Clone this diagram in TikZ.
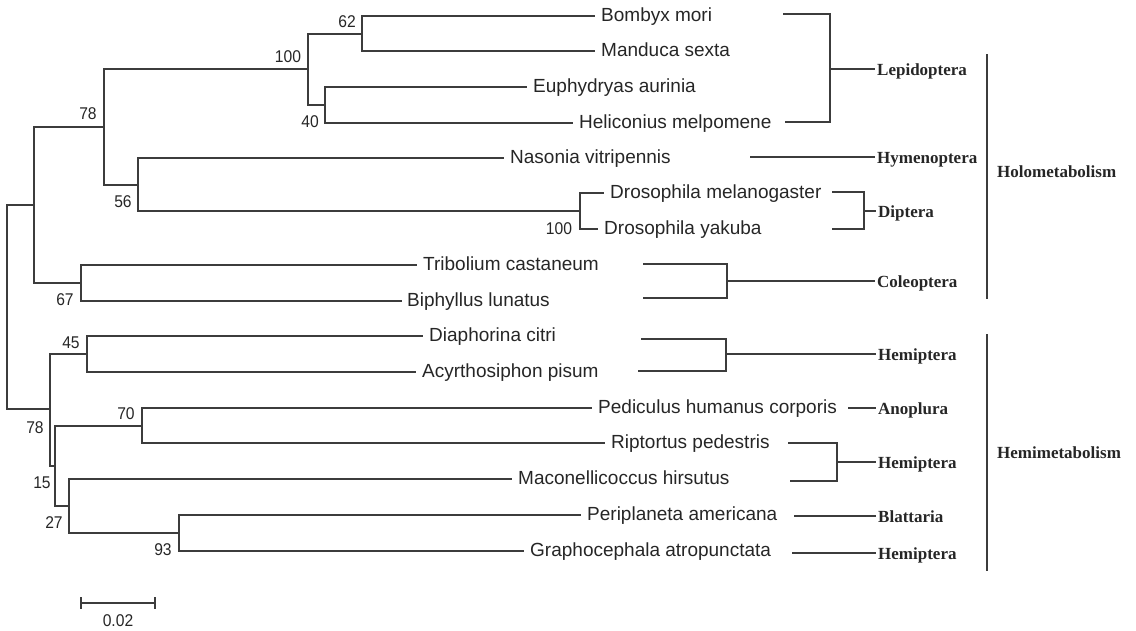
\documentclass[tikz,border=0pt]{standalone}
\usepackage{fontspec}
\setmainfont{Liberation Sans}
\newfontfamily\leaffont{Liberation Sans}
\newfontfamily\bsfont[FakeStretch=0.92]{Liberation Sans}
\newfontfamily\grpfont{Liberation Serif}
\definecolor{linec}{HTML}{3C3C3C}
\definecolor{txtc}{HTML}{262626}
\tikzset{
  br/.style={draw=linec, line width=1.1pt},
  leaf/.style={anchor=west, inner xsep=6pt, inner ysep=0pt, text height=10pt, text depth=0pt,
    font=\leaffont\fontsize{19}{19}\selectfont, text=txtc},
  bs/.style={inner sep=0pt, text height=12pt, text depth=0pt,
    font=\bsfont\fontsize{17}{17}\selectfont, text=txtc},
  grp/.style={anchor=west, inner xsep=2pt, inner ysep=0pt, text height=12pt, text depth=0pt,
    font=\grpfont\bfseries\fontsize{17}{17}\selectfont, text=txtc},
}
\begin{document}
\begin{tikzpicture}[x=1pt,y=-1pt]
\useasboundingbox (0,0) rectangle (1136,630);
% internal nodes
\coordinate (R) at (7,307);
\coordinate (A) at (34,205);
\coordinate (B) at (104,127);
\coordinate (C) at (308,69);
\coordinate (D) at (362,34);
\coordinate (E) at (325,105);
\coordinate (F) at (138,185);
\coordinate (G) at (580,211);
\coordinate (H) at (81,283);
\coordinate (I) at (50,409);
\coordinate (J) at (87,354);
\coordinate (K) at (55,466);
\coordinate (L) at (142,426);
\coordinate (M) at (69,506);
\coordinate (N) at (179,533);
% leaves
\node[leaf] (bm) at (595,16) {Bombyx mori};
\node[leaf] (ms) at (595,51) {Manduca sexta};
\node[leaf] (ea) at (527,87) {Euphydryas aurinia};
\node[leaf] (hm) at (573,123) {Heliconius melpomene};
\node[leaf] (nv) at (504,158) {Nasonia vitripennis};
\node[leaf] (dm) at (604,193) {Drosophila melanogaster};
\node[leaf] (dy) at (598,229) {Drosophila yakuba};
\node[leaf] (tc) at (417,265) {Tribolium castaneum};
\node[leaf, inner xsep=5pt] (bl) at (402,301) {Biphyllus lunatus};
\node[leaf] (dc) at (423,336) {Diaphorina citri};
\node[leaf] (ap) at (416,372) {Acyrthosiphon pisum};
\node[leaf] (ph) at (592,408) {Pediculus humanus corporis};
\node[leaf] (rp) at (605,443) {Riptortus pedestris};
\node[leaf] (mh) at (512,479) {Maconellicoccus hirsutus};
\node[leaf] (pa) at (581,515) {Periplaneta americana};
\node[leaf] (ga) at (524,551) {Graphocephala atropunctata};
% branches
\draw[br] (R) |- (A);  \draw[br] (R) |- (I);
\draw[br] (A) |- (B);  \draw[br] (A) |- (H);
\draw[br] (B) |- (C);  \draw[br] (B) |- (F);
\draw[br] (C) |- (D);  \draw[br] (C) |- (E);
\draw[br] (D) |- (bm.west);  \draw[br] (D) |- (ms.west);
\draw[br] (E) |- (ea.west);  \draw[br] (E) |- (hm.west);
\draw[br] (F) |- (nv.west);  \draw[br] (F) |- (G);
\draw[br] (G) |- (dm.west);  \draw[br] (G) |- (dy.west);
\draw[br] (H) |- (tc.west);  \draw[br] (H) |- (bl.west);
\draw[br] (I) |- (J);  \draw[br] (I) |- (K);
\draw[br] (J) |- (dc.west);  \draw[br] (J) |- (ap.west);
\draw[br] (K) |- (L);  \draw[br] (K) |- (M);
\draw[br] (L) |- (ph.west);  \draw[br] (L) |- (rp.west);
\draw[br] (M) |- (mh.west);  \draw[br] (M) |- (N);
\draw[br] (N) |- (pa.west);  \draw[br] (N) |- (ga.west);
% bootstrap values
\node[bs] (bD) at (347,21) {62};
\node[bs] (bC) at (288,56) {100};
\node[bs] (bB) at (88,113) {78};
\node[bs] (bE) at (310,121) {40};
\node[bs] (bF) at (123,201) {56};
\node[bs] (bH) at (65,299) {67};
\node[bs] (bG) at (559,228) {100};
\node[bs] (bJ) at (71,342) {45};
\node[bs] (bI) at (35,427) {78};
\node[bs] (bL) at (126,413) {70};
\node[bs] (bK) at (42,482) {15};
\node[bs] (bM) at (54,522) {27};
\node[bs] (bN) at (163,549) {93};
% scale bar
\coordinate (sbL) at (81,603);
\coordinate (sbR) at (155,603);
\draw[br] (sbL) -- (sbR);
\draw[br] (sbL) ++(0,-6) -- ++(0,12);
\draw[br] (sbR) ++(0,-6) -- ++(0,12);
\node[bs] (sbT) at (118,620) {0.02};
% group labels
\node[grp] (lepL) at (875,69) {Lepidoptera};
\node[grp] (hymL) at (875,157) {Hymenoptera};
\node[grp] (dipL) at (876,211) {Diptera};
\node[grp] (colL) at (875,281) {Coleoptera};
\node[grp] (hem1L) at (876,354) {Hemiptera};
\node[grp] (anoL) at (876,408) {Anoplura};
\node[grp] (hem2L) at (876,462) {Hemiptera};
\node[grp] (blaL) at (876,516) {Blattaria};
\node[grp] (hem3L) at (876,553) {Hemiptera};
\node[grp] (holL) at (995,171) {Holometabolism};
\node[grp] (hemiL) at (995,452) {Hemimetabolism};
% brackets
\coordinate (lep1) at (783,14);  \coordinate (lepM) at (830,69);  \coordinate (lep2) at (785,122);
\draw[br] (lep1) -| (lepM) |- (lep2);  \draw[br] (lepM) -- (lepL.west);
\coordinate (hym1) at (750,157);
\draw[br] (hym1) -- (hymL.west);
\coordinate (dip1) at (832,192);  \coordinate (dipM) at (864,211);  \coordinate (dip2) at (832,229);
\draw[br] (dip1) -| (dipM) |- (dip2);  \draw[br] (dipM) -- (dipL.west);
\coordinate (col1) at (643,264);  \coordinate (colM) at (727,281);  \coordinate (col2) at (643,298);
\draw[br] (col1) -| (colM) |- (col2);  \draw[br] (colM) -- (colL.west);
\coordinate (hm1a) at (641,339);  \coordinate (hm1M) at (726,354);  \coordinate (hm1b) at (638,371);
\draw[br] (hm1a) -| (hm1M) |- (hm1b);  \draw[br] (hm1M) -- (hem1L.west);
\coordinate (ano1) at (848,408);
\draw[br] (ano1) -- (anoL.west);
\coordinate (hm2a) at (788,443);  \coordinate (hm2M) at (837,462);  \coordinate (hm2b) at (790,481);
\draw[br] (hm2a) -| (hm2M) |- (hm2b);  \draw[br] (hm2M) -- (hem2L.west);
\coordinate (bla1) at (794,516);
\draw[br] (bla1) -- (blaL.west);
\coordinate (hm3a) at (792,553);
\draw[br] (hm3a) -- (hem3L.west);
\coordinate (hol1) at (987,54);  \coordinate (hol2) at (987,299);
\draw[br] (hol1) -- (hol2);
\coordinate (hemi1) at (987,334);  \coordinate (hemi2) at (987,571);
\draw[br] (hemi1) -- (hemi2);
\end{tikzpicture}
\end{document}
